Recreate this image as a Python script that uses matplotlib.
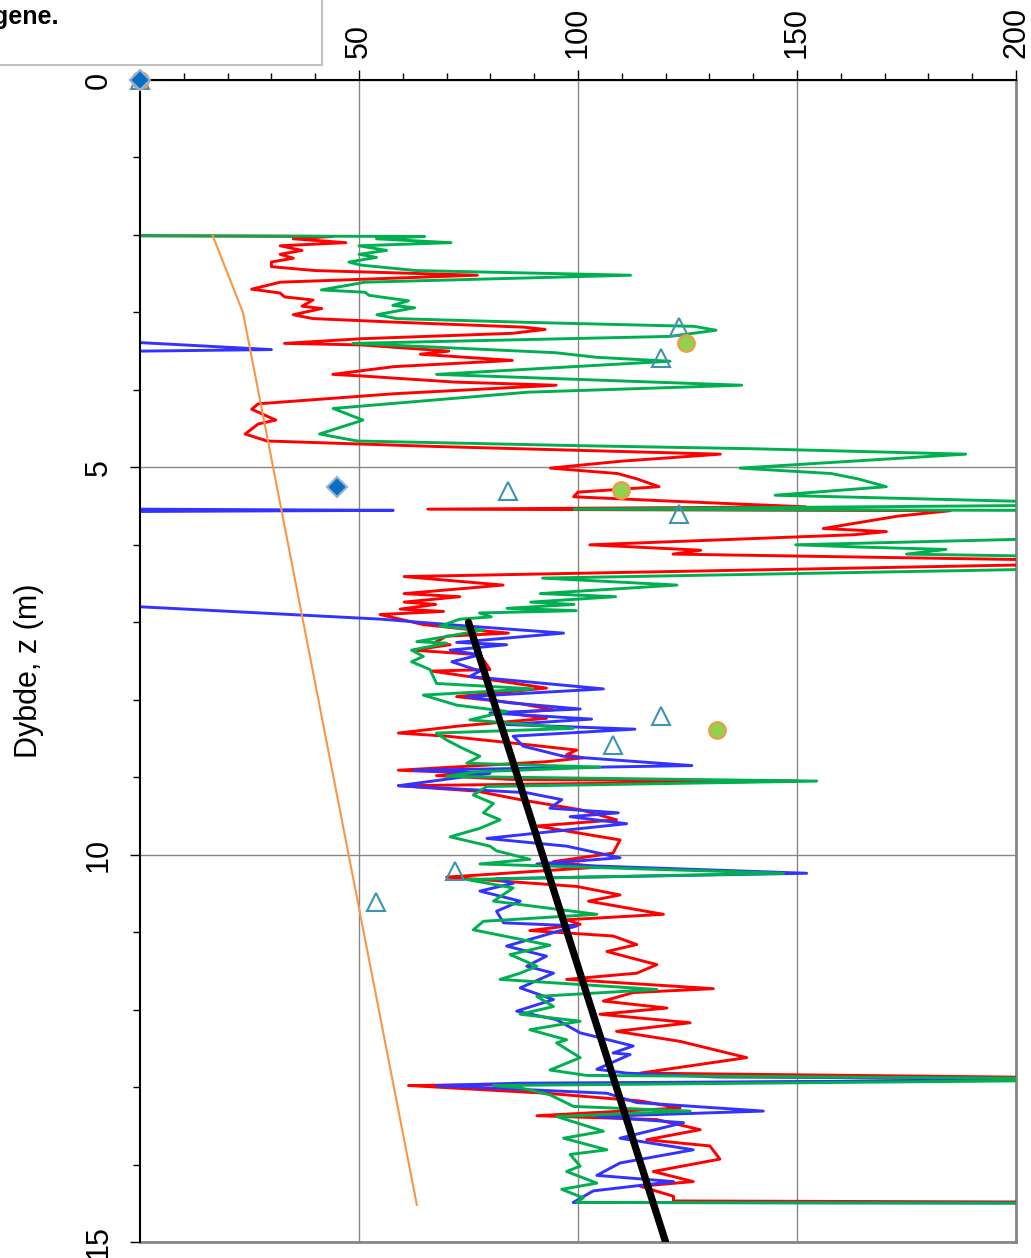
import matplotlib
matplotlib.use("Agg")
import matplotlib.pyplot as plt
from matplotlib.ticker import FixedLocator, MultipleLocator
from matplotlib.patches import Rectangle

nan = float("nan")

# profile values (x) against depth z (m)
red_q = [0, 44, 35, 47, 32, 37, 32, 35, 30, 30, 40, 77, 32, 25.5, 32, 33, 39.5, 37, 41.5, 35,
         39.5, 60, 87.5, 92.5, 85, 50.5, 33, 50.5, 70.5, 64, 85, 58, 44, 50.5, 72, 95, 58, 27,
         25.5, 31, 27, 24, 29, 67, 132.5, 110, 93.7, 109, 113.5, 118.5, 100, 99, 122.6, 152,
         65.7, 185, 173, 156, 170.4, 163, 102.7, 113.6, 128, 121.7, 200.2, 220, 60.3, 82.9,
         60.3, 73, 60.3, 67.5, 59.4, 69.3, 54.8, 64.7, 74.6, 84.1, 70, 67, 70.8, 62.4, 77.6,
         79.9, 66.6, 82.2, 92.8, 72.3, 86.8, 94.4, 83.7, 92.8, 72.7, 59, 70, 85.2, 99.7, 97.4,
         101.2, 92.8, 59, 77.6, 67.7, 85.2, 150, 59, 76.9, 86.8, 100.5, 108.8, 90.6, 109.6, 108,
         94.4, 105, 70, 99.7, 109.6, 102.4, 119.5, 97.4, 100.5, 89.0, 108, 113.4, 106.6, 118,
         113.4, 97.4, 130.9, 112.6, 105.8, 120.3, 105, 125.6, 108.8, 123.3, 138.5, 114.2, 230,
         61.3, 92.8, 114.2, 123.3, 90.6, 118, 127.9, 115.7, 130.1, 132.4, 117.2, 126.3, 114.2,
         121.8, 121.8, 240]
red_z = [2.01, 2.02, 2.05, 2.10, 2.14, 2.20, 2.25, 2.30, 2.35, 2.41, 2.46, 2.52, 2.61, 2.70,
         2.75, 2.80, 2.84, 2.92, 2.95, 3.03, 3.08, 3.13, 3.19, 3.22, 3.27, 3.34, 3.40, 3.42,
         3.50, 3.54, 3.62, 3.70, 3.80, 3.82, 3.90, 3.94, 4.05, 4.18, 4.25, 4.39, 4.44, 4.57,
         4.66, 4.73, 4.83, 4.92, 5.01, 5.08, 5.15, 5.25, 5.32, 5.38, 5.44, 5.51, 5.54, 5.56,
         5.63, 5.79, 5.83, 5.87, 6.00, 6.03, 6.07, 6.12, 6.19, 6.24, 6.41, 6.52, 6.63, 6.67,
         6.74, 6.77, 6.83, 6.86, 6.90, 7.03, 7.09, 7.14, 7.18, 7.27, 7.29, 7.36, 7.42, 7.61,
         7.63, 7.76, 7.85, 7.96, 8.05, 8.13, 8.17, 8.24, 8.34, 8.43, 8.47, 8.56, 8.65, 8.71,
         8.75, 8.80, 8.91, 8.95, 8.98, 9.03, 9.05, 9.11, 9.18, 9.29, 9.42, 9.55, 9.63, 9.81,
         9.98, 10.09, 10.16, 10.29, 10.41, 10.52, 10.60, 10.77, 10.84, 10.90, 10.98, 11.05,
         11.16, 11.25, 11.42, 11.53, 11.61, 11.73, 11.78, 11.89, 11.98, 12.06, 12.17, 12.28,
         12.41, 12.62, 12.82, 12.89, 12.98, 13.08, 13.18, 13.27, 13.37, 13.42, 13.55, 13.68,
         13.76, 13.93, 14.09, 14.22, 14.28, 14.41, 14.47, 14.49]

green_q = [0, 65, 54, 71, 50, 56.3, 50, 54, 47.7, 50.5, 63, 112, 51.4, 41.4, 51.4, 52.3, 61.3,
           57.7, 62.7, 54.1, 58.6, 89.4, 126.5, 131.5, 121, 48.6, 94.8, 104.3, 121, 67.7, 107.5,
           137.4, 88.5, 44.1, 50.9, 41, 49.6, 100, 140, 188.5, 137, 157.8, 164, 170.4, 145, 230,
           99.1, 230, 230, 200.2, 149.7, 165, 184, 175, 230, 230, 91.9, 122.6, 91.4, 108.6,
           89.2, 99.1, 83.8, 99.6, 77.5, 80.2, 73, 68.5, 78.4, 63.2, 70, 62, 64.7, 62, 66.2,
           67.7, 89.8, 64.7, 72.3, 83.7, 75.3, 98.9, 67.7, 70, 73.4, 77.6, 74.6, 105, 76.9, 70,
           154.5, 79.2, 76.1, 80.7, 78.4, 82.2, 77.6, 70.8, 79.9, 81.4, 89, 77.6, 146.9, 74.6,
           85.2, 80.7, 104.3, 78.4, 76.1, 93.6, 84.5, 90.6, 86.8, 82.2, 118, 90.6, 94.4, 86.8,
           100.5, 89, 97.4, 95.1, 100.5, 93.6, 102, 240, 80.7, 86.8, 93.6, 99, 125.6, 95.1,
           105.8, 96.7, 106.6, 98.2, 100.5, 97.4, 104.3, 96.3, 101.2, 99.7, 240]
green_z = [2.01, 2.02, 2.05, 2.10, 2.14, 2.20, 2.25, 2.29, 2.35, 2.39, 2.46, 2.52, 2.61, 2.71,
           2.74, 2.78, 2.85, 2.91, 2.94, 3.03, 3.08, 3.13, 3.18, 3.23, 3.31, 3.40, 3.52, 3.58,
           3.63, 3.80, 3.88, 3.94, 4.03, 4.24, 4.39, 4.57, 4.66, 4.72, 4.76, 4.83, 5.01, 5.08,
           5.15, 5.25, 5.36, 5.48, 5.54, 5.56, 5.90, 5.93, 6.00, 6.03, 6.06, 6.12, 6.17, 6.29,
           6.43, 6.52, 6.63, 6.67, 6.74, 6.77, 6.82, 6.85, 6.88, 6.93, 6.96, 7.05, 7.10, 7.25,
           7.27, 7.36, 7.44, 7.51, 7.61, 7.79, 7.86, 7.94, 8.07, 8.15, 8.26, 8.37, 8.43, 8.52,
           8.62, 8.73, 8.82, 8.87, 8.93, 8.99, 9.05, 9.12, 9.23, 9.34, 9.46, 9.55, 9.66, 9.77,
           9.89, 9.95, 10.06, 10.12, 10.24, 10.32, 10.43, 10.60, 10.77, 10.86, 10.97, 11.17,
           11.29, 11.44, 11.53, 11.61, 11.74, 11.83, 11.96, 12.06, 12.15, 12.26, 12.39, 12.43,
           12.62, 12.78, 12.85, 12.90, 12.98, 13.01, 13.10, 13.25, 13.31, 13.38, 13.57, 13.66,
           13.81, 13.87, 14.02, 14.09, 14.24, 14.32, 14.43, 14.49, 14.50]

# nan = gap in the blue profile (no line along the axis)
blue_q = [0, 30, 0, nan, 0, 57.8, 0, nan, 0, 55, 75, 96.7, 72.3, 83.7, 70.8, 77.6, 71.2, 77.6,
          75.3, 105.8, 74.6, 84.5, 100.5, 79.9, 103.1, 83.7, 113, 85.2, 87.5, 96.7, 126, 62.4,
          79.9, 59, 88.3, 96.3, 93.6, 109.2, 98.2, 111.1, 79.2, 97.4, 109.6, 90.6, 152.2, 81.4,
          85.2, 77.6, 86.8, 81.4, 83, 99.7, 83.7, 92.8, 88.3, 94.4, 86.8, 94.4, 86, 95.1, 100.5,
          112.6, 108, 111.9, 104.3, 111.1, 131.7, 240, 86.8, 67.7, 106.6, 113.4, 142.3, 104.3,
          124.1, 109.6, 126.3, 109.6, 104.3, 121.8, 103.5, 98.9, 240]
blue_z = [3.39, 3.48, 3.50, nan, 5.54, 5.555, 5.57, nan, 6.80, 6.96, 7.05, 7.14, 7.26, 7.29,
          7.36, 7.42, 7.51, 7.63, 7.70, 7.86, 7.96, 8.04, 8.12, 8.17, 8.25, 8.32, 8.38, 8.47,
          8.60, 8.73, 8.85, 8.91, 8.95, 9.11, 9.20, 9.29, 9.40, 9.46, 9.51, 9.60, 9.79, 9.89,
          10.04, 10.12, 10.24, 10.31, 10.37, 10.47, 10.60, 10.73, 10.88, 10.92, 11.18, 11.31,
          11.44, 11.53, 11.72, 11.87, 12.02, 12.13, 12.30, 12.47, 12.56, 12.58, 12.77, 12.82,
          12.87, 12.90, 12.95, 12.98, 13.08, 13.20, 13.31, 13.38, 13.46, 13.66, 13.81, 13.98,
          14.14, 14.22, 14.34, 14.49, 14.50]

orange_q = [16.6, 23.5, 63.2]
orange_z = [2.01, 3.00, 14.52]

trend_q = [75, 120]
trend_z = [7.0, 15.0]

tri_q = [0, 123.1, 118.9, 84.0, 123.1, 118.9, 108.0, 71.9, 53.9]
tri_z = [0, 3.19, 3.59, 5.30, 5.60, 8.21, 8.59, 10.21, 10.61]
circ_q = [0, 124.7, 109.8, 131.7]
circ_z = [0, 3.39, 5.29, 8.39]
dia_q = [0, 45.0]
dia_z = [0, 5.25]

x_major = [50, 100, 150, 200]
y_major = [0, 5, 10, 15]

GRID = "#868686"
FONT = "Liberation Sans"

fig = plt.figure(figsize=(10.31, 12.58), dpi=100)
ax = fig.add_axes([140 / 1031, 1 - 1242 / 1258, 876 / 1031, 1162 / 1258])

ax.plot(red_q, red_z, color="#ff0000", lw=2.1, zorder=3)
ax.plot(blue_q, blue_z, color="#3333ff", lw=2.1, zorder=3)
ax.plot(green_q, green_z, color="#00b050", lw=2.1, zorder=3)
ax.plot(orange_q, orange_z, color="#f79646", lw=1.5, zorder=4)
ax.plot(trend_q, trend_z, color="black", lw=5.2, solid_capstyle="round", zorder=5)

ax.plot(tri_q, tri_z, ls="none", marker="^", ms=13, mfc="none", mec="#3e93ae", mew=1.5,
        zorder=6, clip_on=False)
ax.plot(circ_q, circ_z, ls="none", marker="o", ms=12, mfc="#92d050", mec="#f79646", mew=1.5,
        zorder=7, clip_on=False)
ax.plot(dia_q, dia_z, ls="none", marker="D", ms=10, mfc="#0a6fc2", mec="#8eb0dc", mew=1.5,
        zorder=8, clip_on=False)

ax.set_xlim(0, 200)
ax.set_ylim(15, 0)
ax.xaxis.tick_top()
ax.xaxis.set_major_locator(FixedLocator(x_major))
ax.xaxis.set_minor_locator(MultipleLocator(10))
ax.yaxis.set_major_locator(FixedLocator(y_major))
ax.yaxis.set_minor_locator(MultipleLocator(1))
ax.grid(True, which="major", color=GRID, lw=1)

ax.tick_params(axis="x", which="major", length=7.5, width=1, pad=8, labelsize=22, labelrotation=90)
ax.tick_params(axis="x", which="minor", length=5, width=1)
ax.tick_params(axis="y", which="major", length=7, width=1, pad=12, labelsize=22, labelrotation=90)
ax.tick_params(axis="y", which="minor", length=5, width=1)
for lab in ax.get_xticklabels() + ax.get_yticklabels():
    lab.set_fontfamily(FONT)
for lab in ax.get_yticklabels():
    lab.set_va("center")

for s in ("top", "left"):
    ax.spines[s].set_color("black")
    ax.spines[s].set_linewidth(1.5)
    ax.spines[s].set_zorder(5.5)
for s in ("right", "bottom"):
    ax.spines[s].set_color(GRID)
    ax.spines[s].set_linewidth(2)

ax.set_ylabel("Dybde, z (m)", fontsize=22, family=FONT)
ax.yaxis.set_label_coords(-0.11, 0.492)

# legend box, cut off at the top-left corner as in the source
fig.patches.append(Rectangle((-10 / 1031, 1 - 65 / 1258), 332 / 1031, 80 / 1258,
                             transform=fig.transFigure, fc="white", ec="#c0c0c0", lw=1.5))
fig.text(58 / 1031, 1 - 24 / 1258, "gene.", ha="right", va="baseline", fontsize=18,
         fontweight="bold", family=FONT)

fig.savefig("out.png", dpi=100)
